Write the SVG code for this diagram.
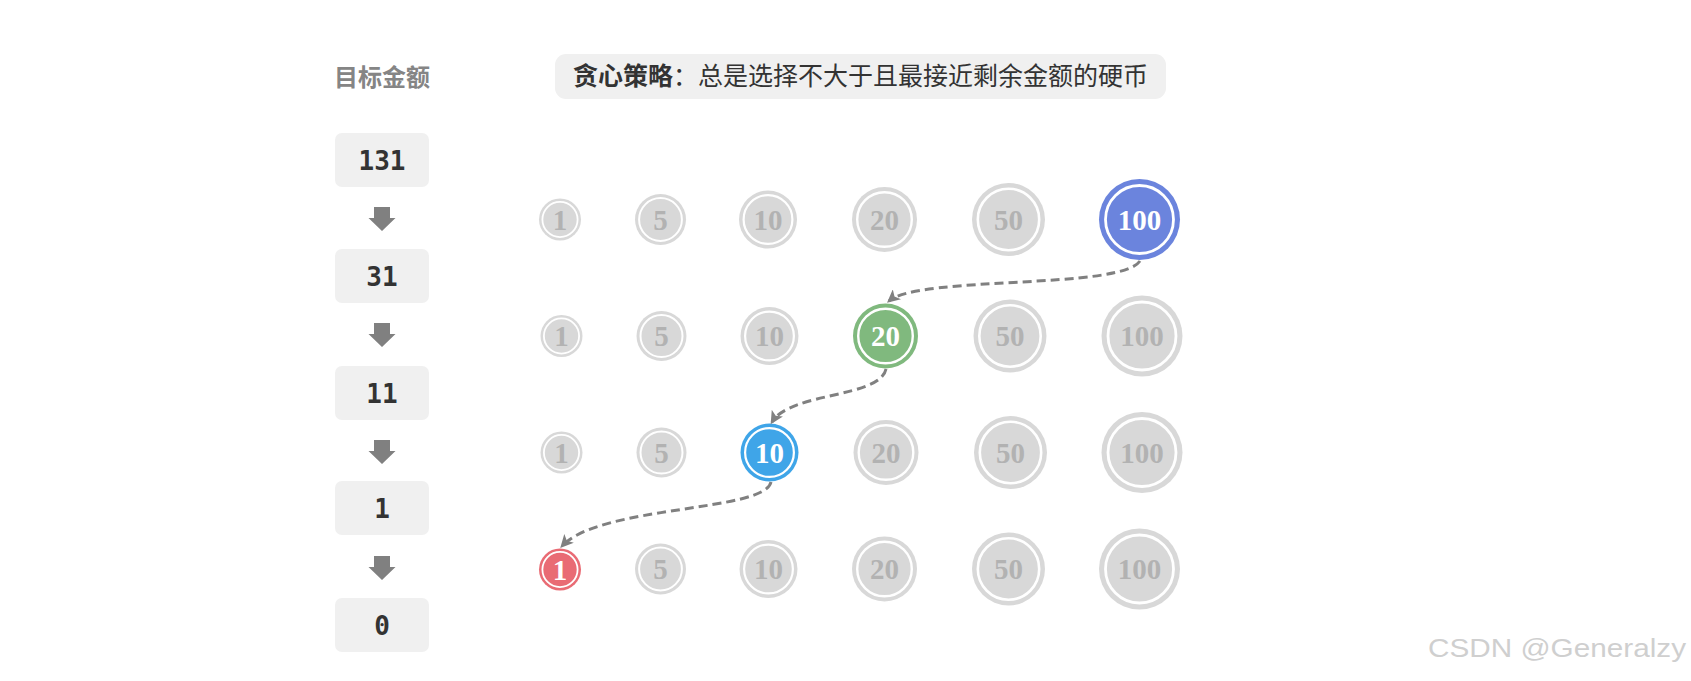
<svg xmlns="http://www.w3.org/2000/svg" width="1691" height="681" viewBox="0 0 1691 681">
<defs>
<style>
.bg{fill:#ffffff}
.vbox{fill:#f0f0f0}
.vtxt{font-family:"DejaVu Sans Mono","Liberation Mono",monospace;font-weight:bold;font-size:26px;fill:#333333;text-anchor:middle}
.title{font-family:"Noto Sans CJK SC","Noto Sans",sans-serif;font-weight:bold;font-size:24px;fill:#858585;text-anchor:middle}
.head{font-family:"Noto Sans CJK SC","Noto Sans",sans-serif;font-size:25px;fill:#333333}
.harr{fill:#808080}
.ring{fill:none;stroke:#ffffff}
.g{fill:#d8d8d8}
.ctxt{font-family:"Liberation Serif","DejaVu Serif",serif;font-weight:bold;font-size:29px;text-anchor:middle}
.gt{fill:#b2b2b2}
.wt{fill:#ffffff}
.conn{fill:none;stroke:#808080;stroke-width:3;stroke-dasharray:9 5}
.wm{font-family:"Liberation Sans",Arial,sans-serif;font-size:25px;fill:#cfcfcf}
</style>
<marker id="ah" viewBox="0 0 10 10" refX="8" refY="5" markerUnits="userSpaceOnUse" markerWidth="14" markerHeight="13" orient="auto">
<path d="M0,0 L10,5 L0,10 L2.5,5 z" fill="#808080"/>
</marker>
</defs>
<rect class="bg" x="0" y="0" width="1691" height="681"/>

<g id="title"><text class="title" x="382" y="86">目标金额</text></g>

<g id="header">
<rect class="vbox" x="555" y="54" width="611" height="45" rx="11"/>
<text class="head" x="573" y="85"><tspan font-weight="bold">贪心策略</tspan>：总是选择不大于且最接近剩余金额的硬币</text>
</g>

<g id="amounts">
<g id="amt-131"><rect class="vbox" x="335" y="133" width="94" height="54" rx="7"/><text class="vtxt" x="382" y="169.5">131</text></g>
<g id="amt-31"><rect class="vbox" x="335" y="249" width="94" height="54" rx="7"/><text class="vtxt" x="382" y="285.5">31</text></g>
<g id="amt-11"><rect class="vbox" x="335" y="366" width="94" height="54" rx="7"/><text class="vtxt" x="382" y="402.5">11</text></g>
<g id="amt-1"><rect class="vbox" x="335" y="481" width="94" height="54" rx="7"/><text class="vtxt" x="382" y="517.5">1</text></g>
<g id="amt-0"><rect class="vbox" x="335" y="598" width="94" height="54" rx="7"/><text class="vtxt" x="382" y="634.5">0</text></g>
</g>

<g id="down-arrows">
<polygon class="harr" points="374,207 390,207 390,218 395.5,218 382,231 368.5,218 374,218"/>
<polygon class="harr" points="374,323 390,323 390,334 395.5,334 382,347 368.5,334 374,334"/>
<polygon class="harr" points="374,440 390,440 390,451 395.5,451 382,464 368.5,451 374,451"/>
<polygon class="harr" points="374,556 390,556 390,567 395.5,567 382,580 368.5,567 374,567"/>
</g>

<!-- Row 1 -->
<g id="r1c1"><circle class="g" cx="560" cy="219.5" r="21"/><circle class="ring" cx="560" cy="219.5" r="17.6" stroke-width="1.8"/><text class="ctxt gt" x="560" y="229.5">1</text></g>
<g id="r1c5"><circle class="g" cx="660.5" cy="219.5" r="25.5"/><circle class="ring" cx="660.5" cy="219.5" r="21.4" stroke-width="2"/><text class="ctxt gt" x="660.5" y="229.5">5</text></g>
<g id="r1c10"><circle class="g" cx="768" cy="219.5" r="29"/><circle class="ring" cx="768" cy="219.5" r="24.4" stroke-width="2.2"/><text class="ctxt gt" x="768" y="229.5">10</text></g>
<g id="r1c20"><circle class="g" cx="884.5" cy="219.5" r="32.5"/><circle class="ring" cx="884.5" cy="219.5" r="27.3" stroke-width="2.4"/><text class="ctxt gt" x="884.5" y="229.5">20</text></g>
<g id="r1c50"><circle class="g" cx="1008.5" cy="219.5" r="36.5"/><circle class="ring" cx="1008.5" cy="219.5" r="30.7" stroke-width="2.6"/><text class="ctxt gt" x="1008.5" y="229.5">50</text></g>
<g id="r1c100"><circle cx="1139.5" cy="219.5" r="40.5" fill="#6b84dd"/><circle class="ring" cx="1139.5" cy="219.5" r="34" stroke-width="2.8"/><text class="ctxt wt" x="1139.5" y="229.5">100</text></g>

<!-- Row 2 -->
<g id="r2c1"><circle class="g" cx="561.5" cy="336" r="21"/><circle class="ring" cx="561.5" cy="336" r="17.6" stroke-width="1.8"/><text class="ctxt gt" x="561.5" y="346">1</text></g>
<g id="r2c5"><circle class="g" cx="661.5" cy="336" r="25"/><circle class="ring" cx="661.5" cy="336" r="21" stroke-width="2"/><text class="ctxt gt" x="661.5" y="346">5</text></g>
<g id="r2c10"><circle class="g" cx="769.5" cy="336" r="29"/><circle class="ring" cx="769.5" cy="336" r="24.4" stroke-width="2.2"/><text class="ctxt gt" x="769.5" y="346">10</text></g>
<g id="r2c20"><circle cx="885.5" cy="336" r="32.5" fill="#80b97e"/><circle class="ring" cx="885.5" cy="336" r="27.3" stroke-width="2.4"/><text class="ctxt wt" x="885.5" y="346">20</text></g>
<g id="r2c50"><circle class="g" cx="1010" cy="336" r="36.5"/><circle class="ring" cx="1010" cy="336" r="30.7" stroke-width="2.6"/><text class="ctxt gt" x="1010" y="346">50</text></g>
<g id="r2c100"><circle class="g" cx="1142" cy="336" r="40.5"/><circle class="ring" cx="1142" cy="336" r="34" stroke-width="2.8"/><text class="ctxt gt" x="1142" y="346">100</text></g>

<!-- Row 3 -->
<g id="r3c1"><circle class="g" cx="561.5" cy="452.5" r="21"/><circle class="ring" cx="561.5" cy="452.5" r="17.6" stroke-width="1.8"/><text class="ctxt gt" x="561.5" y="462.5">1</text></g>
<g id="r3c5"><circle class="g" cx="661.5" cy="452.5" r="25"/><circle class="ring" cx="661.5" cy="452.5" r="21" stroke-width="2"/><text class="ctxt gt" x="661.5" y="462.5">5</text></g>
<g id="r3c10"><circle cx="769.5" cy="452.5" r="29" fill="#3fa5e8"/><circle class="ring" cx="769.5" cy="452.5" r="24.4" stroke-width="2.2"/><text class="ctxt wt" x="769.5" y="462.5">10</text></g>
<g id="r3c20"><circle class="g" cx="886" cy="452.5" r="32.5"/><circle class="ring" cx="886" cy="452.5" r="27.3" stroke-width="2.4"/><text class="ctxt gt" x="886" y="462.5">20</text></g>
<g id="r3c50"><circle class="g" cx="1010.5" cy="452.5" r="36.5"/><circle class="ring" cx="1010.5" cy="452.5" r="30.7" stroke-width="2.6"/><text class="ctxt gt" x="1010.5" y="462.5">50</text></g>
<g id="r3c100"><circle class="g" cx="1142" cy="452.5" r="40.5"/><circle class="ring" cx="1142" cy="452.5" r="34" stroke-width="2.8"/><text class="ctxt gt" x="1142" y="462.5">100</text></g>

<!-- Row 4 -->
<g id="r4c1"><circle cx="560" cy="569.5" r="21" fill="#e96b74"/><circle class="ring" cx="560" cy="569.5" r="17.6" stroke-width="1.8"/><text class="ctxt wt" x="560" y="579.5">1</text></g>
<g id="r4c5"><circle class="g" cx="660.5" cy="569" r="25.5"/><circle class="ring" cx="660.5" cy="569" r="21.4" stroke-width="2"/><text class="ctxt gt" x="660.5" y="579">5</text></g>
<g id="r4c10"><circle class="g" cx="768.5" cy="569" r="29"/><circle class="ring" cx="768.5" cy="569" r="24.4" stroke-width="2.2"/><text class="ctxt gt" x="768.5" y="579">10</text></g>
<g id="r4c20"><circle class="g" cx="884.5" cy="569" r="32.5"/><circle class="ring" cx="884.5" cy="569" r="27.3" stroke-width="2.4"/><text class="ctxt gt" x="884.5" y="579">20</text></g>
<g id="r4c50"><circle class="g" cx="1008.5" cy="569" r="36.5"/><circle class="ring" cx="1008.5" cy="569" r="30.7" stroke-width="2.6"/><text class="ctxt gt" x="1008.5" y="579">50</text></g>
<g id="r4c100"><circle class="g" cx="1139.5" cy="569" r="40.5"/><circle class="ring" cx="1139.5" cy="569" r="34" stroke-width="2.8"/><text class="ctxt gt" x="1139.5" y="579">100</text></g>

<g id="connectors">
<path class="conn" d="M1140,261 C1120,290 920,275 889,301" marker-end="url(#ah)"/>
<path class="conn" d="M886,369 C880,398 790,392 772,422" marker-end="url(#ah)"/>
<path class="conn" d="M771,482 C765,512 600,505 562,546" marker-end="url(#ah)"/>
</g>

<g id="watermark"><text class="wm" x="1428" y="657" textLength="258" lengthAdjust="spacingAndGlyphs">CSDN @Generalzy</text></g>
</svg>
